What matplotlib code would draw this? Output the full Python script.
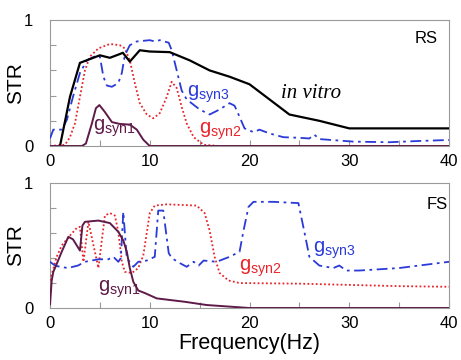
import matplotlib
matplotlib.use("Agg")
import matplotlib.pyplot as plt
from matplotlib.ticker import MultipleLocator

# ---------------- data ----------------
# RS panel
rs_vitro_x = [1, 2, 3, 4, 5, 6, 7, 7.3, 8, 9, 10, 12, 14, 16, 18, 20, 22, 24, 27, 30, 40]
rs_vitro_y = [0, 0.39, 0.66, 0.69, 0.72, 0.70, 0.73, 0.74, 0.67, 0.76, 0.75, 0.745, 0.68, 0.60, 0.55, 0.49, 0.37, 0.25, 0.20, 0.14, 0.14]

rs_g1_x = [0, 3.2, 3.6, 4.2, 4.6, 4.95, 5.5, 6.2, 7, 8, 8.7, 9.35, 10, 40]
rs_g1_y = [0, 0, 0.02, 0.18, 0.30, 0.325, 0.27, 0.19, 0.175, 0.17, 0.13, 0.05, 0, 0]

rs_g2_x = [0, 1.5, 2, 2.5, 3, 3.5, 4, 4.85, 6, 7, 7.5, 8, 8.5, 9, 9.7, 10.35, 11, 11.7, 12.2, 12.7, 13.2, 13.7, 14.4, 15.4, 17, 40]
rs_g2_y = [0, 0.01, 0.07, 0.18, 0.39, 0.60, 0.71, 0.775, 0.81, 0.80, 0.775, 0.68, 0.50, 0.34, 0.25, 0.22, 0.26, 0.39, 0.51, 0.46, 0.31, 0.18, 0.07, 0.01, 0, 0]

rs_g3_x = [0, 0.33, 1.2, 1.7, 2.3, 3, 3.7, 4.7, 5, 5.35, 5.7, 6.2, 6.85, 7.2, 7.5, 8, 8.7, 10, 10.5, 11, 11.9, 12.2, 12.7, 13.2, 13.7, 15, 16, 17, 18, 18.5, 18.9, 19.5, 20.4, 21, 22, 23.4, 25, 26, 26.5, 27, 28.7, 30.4, 34, 37, 40]
rs_g3_y = [0.06, 0.13, 0.13, 0.21, 0.39, 0.58, 0.68, 0.72, 0.71, 0.55, 0.48, 0.47, 0.50, 0.58, 0.72, 0.80, 0.83, 0.84, 0.83, 0.84, 0.82, 0.76, 0.60, 0.44, 0.37, 0.29, 0.25, 0.29, 0.34, 0.32, 0.25, 0.14, 0.11, 0.13, 0.10, 0.07, 0.065, 0.06, 0.09, 0.055, 0.045, 0.035, 0.03, 0.04, 0.048]

# FS panel
fs_g1_x = [0, 0.17, 0.33, 0.5, 1.17, 1.84, 2.3, 3.0, 3.25, 3.5, 4.85, 6, 6.85, 7.35, 7.7, 8.0, 8.35, 8.85, 9.5, 10.7, 13.5, 15.7, 20, 40]
fs_g1_y = [0.03, 0.22, 0.29, 0.32, 0.45, 0.57, 0.55, 0.46, 0.66, 0.69, 0.70, 0.68, 0.61, 0.54, 0.45, 0.32, 0.21, 0.14, 0.12, 0.077, 0.05, 0.024, 0, 0]

fs_g2_x = [0, 0.67, 1.17, 2, 2.67, 3.0, 3.35, 3.85, 4.85, 5.5, 6, 6.5, 6.85, 7.2, 7.5, 8.2, 8.85, 9.35, 10, 10.5, 11.7, 14.7, 15.5, 16, 16.5, 17, 17.9, 19, 25, 30, 35, 40]
fs_g2_y = [0.22, 0.41, 0.50, 0.58, 0.64, 0.65, 0.37, 0.69, 0.32, 0.74, 0.76, 0.74, 0.61, 0.37, 0.29, 0.28, 0.32, 0.42, 0.76, 0.82, 0.83, 0.82, 0.76, 0.62, 0.41, 0.28, 0.22, 0.20, 0.195, 0.185, 0.175, 0.17]

fs_g3_x = [0, 0.5, 1, 1.8, 2.8, 3.5, 4.85, 5.85, 6.35, 6.85, 7.1, 7.35, 7.55, 7.7, 8.35, 8.85, 9.7, 10.5, 10.85, 11.35, 11.9, 12.2, 13, 13.7, 14.4, 14.9, 15.4, 16.7, 18, 19, 19.4, 19.9, 20.4, 22.4, 24.9, 25.6, 26, 27, 28.4, 29, 29.7, 31, 35, 40]
fs_g3_y = [0.37, 0.34, 0.33, 0.32, 0.34, 0.37, 0.39, 0.39, 0.41, 0.37, 0.40, 0.77, 0.55, 0.40, 0.33, 0.37, 0.38, 0.41, 0.78, 0.78, 0.44, 0.40, 0.36, 0.33, 0.37, 0.34, 0.38, 0.37, 0.41, 0.45, 0.62, 0.81, 0.85, 0.85, 0.84, 0.57, 0.41, 0.34, 0.32, 0.34, 0.30, 0.30, 0.32, 0.37]

x_ticks = [0, 10, 20, 30, 40]
y_ticks = [0, 1]

# ---------------- style ----------------
SANS = ["Liberation Sans", "DejaVu Sans"]
plt.rcParams["font.family"] = SANS
plt.rcParams["mathtext.fontset"] = "custom"
plt.rcParams["mathtext.rm"] = "Liberation Sans"
plt.rcParams["mathtext.it"] = "Liberation Sans:italic"

C_G1 = "#5e1a48"
C_G2 = "#e8242a"
C_G3 = "#2a3ad8"
GREY = "#9a9a9a"

fig = plt.figure(figsize=(4.61, 3.6), dpi=100)
ax1 = fig.add_axes([0.1085, 0.5944, 0.8655, 0.35])
ax2 = fig.add_axes([0.1085, 0.1444, 0.8655, 0.347])

dash3 = (0, (6, 2.5, 1.5, 2.5))
dot2 = (0, (1, 1.3))


def style(ax):
    ax.set_xlim(0, 40)
    ax.set_ylim(0, 1)
    ax.set_xticks(x_ticks)
    ax.set_yticks(y_ticks)
    ax.xaxis.set_minor_locator(MultipleLocator(5))
    ax.yaxis.set_minor_locator(MultipleLocator(0.2))
    for s in ax.spines.values():
        s.set_color(GREY)
        s.set_linewidth(0.8)
    ax.tick_params(which="both", direction="in", color=GREY, width=0.8, length=4,
                   top=False, right=False)
    ax.tick_params(axis="y", which="major", length=0, pad=12, labelsize=12)
    ax.tick_params(axis="x", which="major", length=4, pad=6, labelsize=12)
    ax.set_ylabel("STR", fontsize=15)
    ax.yaxis.set_label_coords(-0.063, 0.5)


# RS panel
ax1.plot(rs_g2_x, rs_g2_y, color=C_G2, lw=1.3, ls=dot2, zorder=3)
ax1.plot(rs_g3_x, rs_g3_y, color=C_G3, lw=1.3, ls=dash3, zorder=3)
ax1.plot(rs_vitro_x, rs_vitro_y, color="black", lw=1.6, zorder=4)
ax1.plot(rs_g1_x, rs_g1_y, color=C_G1, lw=1.4, zorder=4)
style(ax1)
ax1.text(4.3, 0.125, r"g$_{\mathrm{syn1}}$", color=C_G1, fontsize=14.5, va="baseline")
ax1.text(14.9, 0.095, r"g$_{\mathrm{syn2}}$", color=C_G2, fontsize=14.5, va="baseline")
ax1.text(13.7, 0.39, r"g$_{\mathrm{syn3}}$", color=C_G3, fontsize=14.5, va="baseline")
ax1.text(23.2, 0.38, "in vitro", fontsize=15, style="italic",
         family=["Liberation Serif", "DejaVu Serif"], va="baseline")
ax1.text(36.6, 0.82, "RS", fontsize=12, va="baseline")

# FS panel
ax2.plot(fs_g2_x, fs_g2_y, color=C_G2, lw=1.3, ls=dot2, zorder=3)
ax2.plot(fs_g3_x, fs_g3_y, color=C_G3, lw=1.3, ls=dash3, zorder=3)
ax2.plot(fs_g1_x, fs_g1_y, color=C_G1, lw=1.4, zorder=4)
style(ax2)
ax2.text(4.85, 0.13, r"g$_{\mathrm{syn1}}$", color=C_G1, fontsize=14.5, va="baseline")
ax2.text(18.9, 0.30, r"g$_{\mathrm{syn2}}$", color=C_G2, fontsize=14.5, va="baseline")
ax2.text(26.4, 0.44, r"g$_{\mathrm{syn3}}$", color=C_G3, fontsize=14.5, va="baseline")
ax2.text(37.8, 0.79, "FS", fontsize=12, va="baseline")
ax2.set_xlabel("Frequency(Hz)", fontsize=15.5, labelpad=1)

fig.savefig("out.png", dpi=100)
